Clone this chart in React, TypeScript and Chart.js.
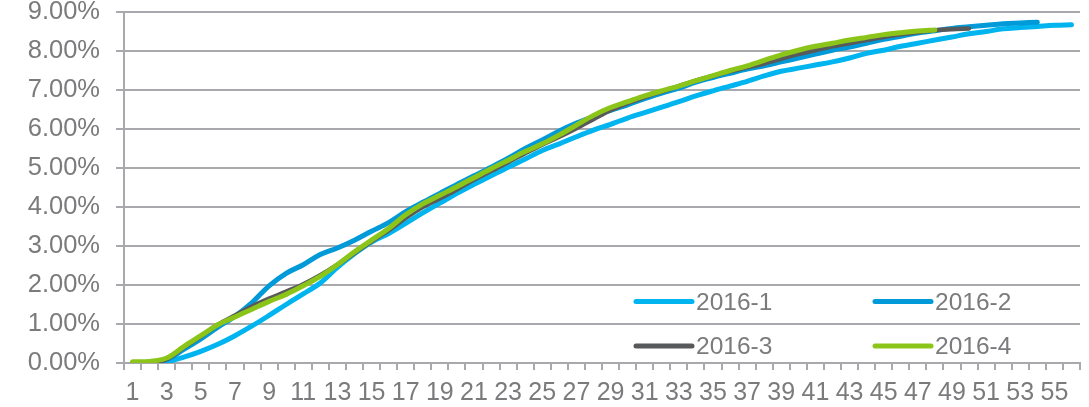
import React, { useEffect, useRef } from "react";
import { Chart, registerables } from "chart.js";

Chart.register(...registerables);

const categories: string[] = Array.from({ length: 56 }, (_, i) => String(i + 1));

const yTicks: number[] = [0, 1, 2, 3, 4, 5, 6, 7, 8, 9];

const seriesNames: string[] = ["2016-1", "2016-2", "2016-3", "2016-4"];

const s2016_1: number[] = [
  0, 0, 0.03, 0.15, 0.3, 0.48, 0.7, 0.95, 1.22, 1.5,
  1.77, 2.05, 2.45, 2.8, 3.1, 3.32, 3.58, 3.85, 4.1, 4.35,
  4.58, 4.8, 5.02, 5.23, 5.45, 5.62, 5.8, 5.97, 6.12, 6.28,
  6.42, 6.56, 6.7, 6.85, 6.98, 7.1, 7.22, 7.36, 7.48, 7.56,
  7.64, 7.72, 7.82, 7.94, 8.02, 8.12, 8.2, 8.28, 8.36, 8.44,
  8.5, 8.57, 8.6, 8.63, 8.66, 8.67,
];

const s2016_2: number[] = [
  0, 0, 0.08, 0.35, 0.62, 0.92, 1.2, 1.55, 1.98, 2.3,
  2.52, 2.78, 2.95, 3.15, 3.38, 3.6, 3.88, 4.12, 4.35, 4.58,
  4.8, 5.02, 5.25, 5.5, 5.72, 5.95, 6.15, 6.32, 6.48, 6.62,
  6.78, 6.92, 7.05, 7.2, 7.32, 7.43, 7.54, 7.62, 7.72, 7.82,
  7.92, 8.02, 8.1, 8.2, 8.3, 8.38, 8.46, 8.52, 8.58, 8.62,
  8.66, 8.7, 8.72, 8.74,
];

const s2016_3: number[] = [
  0, 0.02, 0.1, 0.4, 0.68, 0.98, 1.22, 1.45, 1.65, 1.83,
  2.02, 2.25, 2.52, 2.82, 3.12, 3.4, 3.72, 4.0, 4.22, 4.45,
  4.7, 4.92, 5.15, 5.38, 5.6, 5.8, 6.02, 6.25, 6.48, 6.66,
  6.82, 6.96, 7.1, 7.24, 7.36, 7.48, 7.58, 7.68, 7.8, 7.92,
  8.02, 8.12, 8.2, 8.28, 8.36, 8.43, 8.48, 8.53, 8.56, 8.58,
];

const s2016_4: number[] = [
  0.03, 0.04, 0.13, 0.42, 0.7, 0.98, 1.18, 1.38, 1.58, 1.76,
  1.98, 2.22, 2.52, 2.85, 3.15, 3.45, 3.8, 4.08, 4.3, 4.52,
  4.75, 4.98, 5.2, 5.42, 5.62, 5.85, 6.1, 6.35, 6.55, 6.7,
  6.85, 6.98, 7.1, 7.24, 7.37, 7.5, 7.62, 7.76, 7.9, 8.02,
  8.12, 8.2, 8.28, 8.35, 8.42, 8.47, 8.51, 8.54,
];

const seriesData: number[][] = [s2016_1, s2016_2, s2016_3, s2016_4];
const seriesColors: string[] = ["#00B4EF", "#009AD8", "#58595B", "#8CC51A"];

const GRID = "#A8A8AD";
const TEXT = "#7B7B7E";
const FONT = "'Liberation Sans', Arial, sans-serif";

const legendPlugin = {
  id: "cornerLegend",
  afterDatasetsDraw(chart: any) {
    const ctx = chart.ctx;
    const area = chart.chartArea;
    const colX = [area.right - 444, area.right - 205];
    const rowY = [area.bottom - 61.5, area.bottom - 17];
    ctx.save();
    ctx.font = `24.5px ${FONT}`;
    ctx.textBaseline = "middle";
    ctx.textAlign = "left";
    seriesNames.forEach((name, i) => {
      const x = colX[i % 2];
      const y = rowY[Math.floor(i / 2)];
      ctx.strokeStyle = seriesColors[i];
      ctx.lineWidth = 5;
      ctx.lineCap = "round";
      ctx.beginPath();
      ctx.moveTo(x, y);
      ctx.lineTo(x + 56, y);
      ctx.stroke();
      ctx.fillStyle = TEXT;
      ctx.fillText(name, x + 60, y + 1.5);
    });
    ctx.restore();
  },
};

export default function App() {
  const canvasRef = useRef<HTMLCanvasElement | null>(null);

  useEffect(() => {
    if (!canvasRef.current) return;
    const chart = new Chart(canvasRef.current, {
      type: "line",
      data: {
        labels: categories,
        datasets: seriesNames.map((name, i) => ({
          label: name,
          data: seriesData[i],
          borderColor: seriesColors[i],
          backgroundColor: seriesColors[i],
          borderWidth: i === 2 ? 4.5 : 5,
          pointRadius: 0,
          pointHoverRadius: 0,
          tension: 0.35,
          borderCapStyle: "round",
          borderJoinStyle: "round",
          fill: false,
          order: 4 - i,
        })),
      },
      options: {
        responsive: false,
        animation: false,
        devicePixelRatio: 1,
        layout: { padding: { left: 0, right: 9, top: 12, bottom: 0 } },
        plugins: {
          legend: { display: false },
          tooltip: { enabled: false },
        },
        scales: {
          x: {
            type: "category",
            offset: true,
            grid: {
              offset: true,
              drawOnChartArea: false,
              drawTicks: true,
              tickLength: 7,
              tickColor: GRID,
              tickWidth: 2,
              color: GRID,
              lineWidth: 2,
            },
            border: { display: true, color: GRID, width: 2 },
            ticks: {
              autoSkip: false,
              maxRotation: 0,
              minRotation: 0,
              padding: 8,
              color: TEXT,
              font: { family: FONT, size: 25 },
              callback: (_v: any, idx: number) => (idx % 2 === 0 ? categories[idx] : ""),
            },
            afterFit: (scale: any) => {
              scale.height = 44;
              scale.paddingLeft = 0;
              scale.paddingRight = 0;
            },
          },
          y: {
            min: yTicks[0],
            max: yTicks[yTicks.length - 1],
            afterBuildTicks: (scale: any) => {
              scale.ticks = yTicks.map((v) => ({ value: v }));
            },
            grid: {
              color: GRID,
              lineWidth: 2,
              drawTicks: true,
              tickLength: 8,
              tickColor: GRID,
              tickWidth: 2,
            },
            border: { display: true, color: GRID, width: 2 },
            ticks: {
              padding: 16,
              color: TEXT,
              font: { family: FONT, size: 25.5, lineHeight: 1 },
              callback: (v: any) => `${Number(v).toFixed(2)}%`,
            },
            afterFit: (scale: any) => {
              scale.width = 124;
              scale.paddingTop = 0;
              scale.paddingBottom = 0;
            },
          },
        },
      },
      plugins: [legendPlugin],
    });
    return () => chart.destroy();
  }, []);

  return (
    <div style={{ position: "absolute", left: 0, top: 0, width: 1089, height: 407 }}>
      <canvas ref={canvasRef} width={1089} height={407} style={{ width: "1089px", height: "407px", display: "block" }} />
    </div>
  );
}
